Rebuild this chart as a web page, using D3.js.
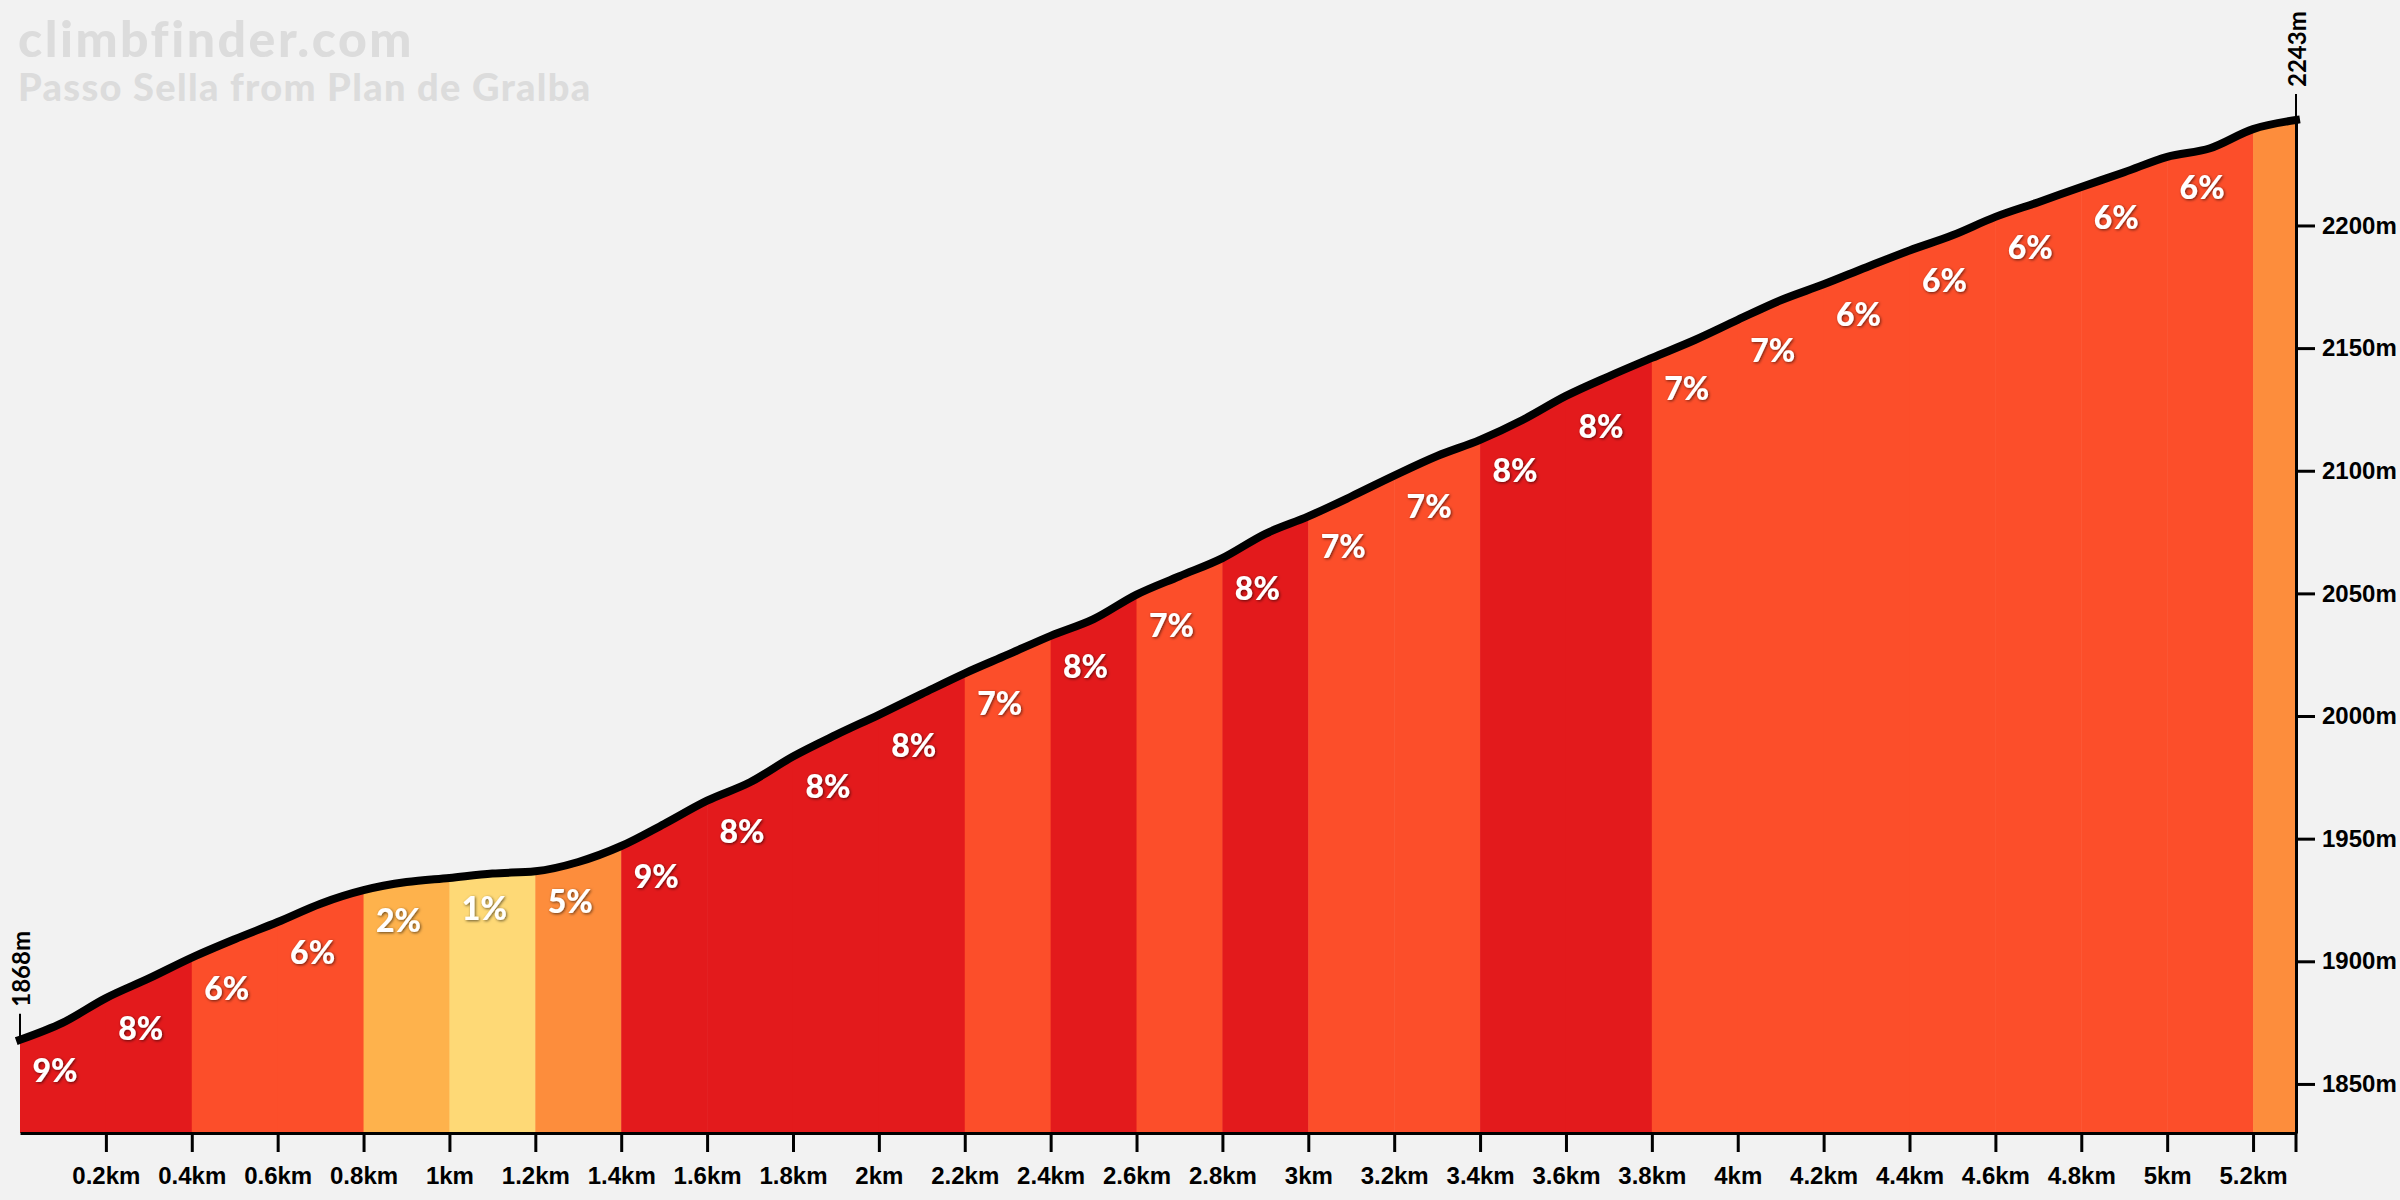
<!DOCTYPE html>
<html>
<head>
<meta charset="utf-8">
<script src="https://cdn.jsdelivr.net/npm/d3@7"></script>
<style>
  html, body { margin: 0; padding: 0; background: #f2f2f2; }
  svg { display: block; font-family: Lato, "Open Sans", sans-serif; }
  .axis text { font-size: 24px; font-weight: 700; fill: #000; }
  .axis line, .axis path { stroke: #000; stroke-width: 3; }
</style>
</head>
<body>
<svg width="2400" height="1200"></svg>
<script>
/* Data */
const TITLE = 'climbfinder.com';
const SUBTITLE = 'Passo Sella from Plan de Gralba';

// profile, km / m
const DISTANCE = [0, 0.1, 0.2, 0.3, 0.4, 0.5, 0.6, 0.7, 0.8, 0.9,
  1.0, 1.1, 1.2, 1.3, 1.4, 1.5, 1.6, 1.7, 1.8, 1.9,
  2.0, 2.1, 2.2, 2.3, 2.4, 2.5, 2.6, 2.7, 2.8, 2.9,
  3.0, 3.1, 3.2, 3.3, 3.4, 3.5, 3.6, 3.7, 3.8, 3.9,
  4.0, 4.1, 4.2, 4.3, 4.4, 4.5, 4.6, 4.7, 4.8, 4.9,
  5.0, 5.1, 5.2, 5.3];
const ELEVATION = [1868, 1875, 1885, 1893, 1901.5, 1909, 1916, 1923.5, 1929, 1932.3,
  1934, 1935.8, 1936.7, 1940.5, 1947, 1956, 1965.5, 1973, 1983.5, 1992.3,
  2000.5, 2009, 2017.4, 2025, 2032.7, 2039.5, 2049.5, 2057, 2064.4, 2074.3,
  2081.4, 2089.5, 2098, 2106, 2112.6, 2120.8, 2130.5, 2138.5, 2146, 2153.3,
  2161.5, 2169.5, 2176, 2183, 2189.8, 2196, 2203.5, 2209.5, 2215.7, 2221.7,
  2228, 2231.5, 2239.3, 2243];

// gradient segments
const SEGMENT_START = [0, 0.2, 0.4, 0.6, 0.8, 1.0, 1.2, 1.4, 1.6, 1.8, 2.0, 2.2, 2.4,
  2.6, 2.8, 3.0, 3.2, 3.4, 3.6, 3.8, 4.0, 4.2, 4.4, 4.6, 4.8, 5.0, 5.2];
const SEGMENT_GRADE = [9, 8, 6, 6, 2, 1, 5, 9, 8, 8, 8, 7, 8, 7, 8, 7, 7, 8, 8, 7, 7,
  6, 6, 6, 6, 6, 4];

const X_TICKS = [0.2, 0.4, 0.6, 0.8, 1, 1.2, 1.4, 1.6, 1.8, 2, 2.2, 2.4, 2.6, 2.8,
  3, 3.2, 3.4, 3.6, 3.8, 4, 4.2, 4.4, 4.6, 4.8, 5, 5.2];
const Y_TICKS = [1850, 1900, 1950, 2000, 2050, 2100, 2150, 2200];

const GRADE_BREAKS = [2, 3, 6, 8];
const GRADE_COLORS = ['#fed976', '#feb24c', '#fd8d3c', '#fc4e2a', '#e31a1c'];

/* SVG */
const svg = d3.select('svg');
const profile = DISTANCE.map((d, i) => ({ d: d, e: ELEVATION[i] }));
const totalDist = DISTANCE[DISTANCE.length - 1];

/* Scales */
const x = d3.scaleLinear().domain([0, totalDist]).range([20, 2296]);
const y = d3.scaleLinear().domain([1830, 2243]).range([1133, 120]);
const color = d3.scaleThreshold().domain(GRADE_BREAKS).range(GRADE_COLORS);

const elevAt = d => profile[d3.bisector(p => p.d).left(profile, d - 1e-6)].e;

/* Title */
svg.append('text')
  .attr('x', 18).attr('y', 57)
  .attr('font-size', 50).attr('font-weight', 900)
  .attr('letter-spacing', 2.5)
  .attr('fill', '#dcdcdc')
  .text(TITLE);
svg.append('text')
  .attr('x', 18).attr('y', 101)
  .attr('font-size', 38).attr('font-weight', 900)
  .attr('letter-spacing', 1.3)
  .attr('fill', '#dcdcdc')
  .text(SUBTITLE);

/* Defs */
const defs = svg.append('defs');
const area = d3.area()
  .x(p => x(p.d))
  .y0(y(1830))
  .y1(p => y(p.e))
  .curve(d3.curveMonotoneX);

defs.append('clipPath').attr('id', 'profile-clip')
  .append('path').attr('d', area(profile));

defs.append('filter').attr('id', 'shadow')
  .attr('x', '-20%').attr('y', '-20%').attr('width', '140%').attr('height', '140%')
  .append('feDropShadow')
  .attr('dx', 1).attr('dy', 1).attr('stdDeviation', 1.5)
  .attr('flood-color', '#000').attr('flood-opacity', 0.6);

/* Segments */
const segments = SEGMENT_START.map((s, i) => ({
  start: s,
  end: i < SEGMENT_START.length - 1 ? SEGMENT_START[i + 1] : totalDist,
  grade: SEGMENT_GRADE[i]
}));

svg.append('g')
  .attr('clip-path', 'url(#profile-clip)')
  .selectAll('rect')
  .data(segments)
  .enter().append('rect')
  .attr('x', d => x(d.start))
  .attr('y', 0)
  .attr('width', d => x(d.end) - x(d.start) + 0.5)
  .attr('height', y(1830))
  .attr('fill', d => color(d.grade));

/* Profile line */
const line = d3.line()
  .x(p => x(p.d))
  .y(p => y(p.e))
  .curve(d3.curveMonotoneX);

svg.append('path')
  .attr('d', line(profile))
  .attr('fill', 'none')
  .attr('stroke', '#000')
  .attr('stroke-width', 8)
  .attr('stroke-linecap', 'square');

/* Gradient labels */
svg.append('g')
  .selectAll('text')
  .data(segments.filter(s => s.end - s.start > 0.15))
  .enter().append('text')
  .attr('x', d => x((d.start + d.end) / 2) - 8)
  .attr('y', d => y(elevAt(d.start)) + 42)
  .attr('text-anchor', 'middle')
  .attr('font-size', 32)
  .attr('font-weight', 900)
  .attr('fill', '#fff')
  .attr('filter', 'url(#shadow)')
  .text(d => d.grade + '%');

/* Axes */
const xAxis = d3.axisBottom(x)
  .tickValues(X_TICKS)
  .tickSize(19)
  .tickSizeOuter(0)
  .tickPadding(15)
  .tickFormat(d => d3.format('~g')(d) + 'km');

svg.append('g')
  .attr('class', 'axis')
  .attr('transform', `translate(0,${y(1830)})`)
  .attr('font-family', null).attr('font-size', null)
  .call(xAxis);

const yAxis = d3.axisRight(y)
  .tickValues(Y_TICKS)
  .tickSize(19)
  .tickSizeOuter(0)
  .tickPadding(7)
  .tickFormat(d => d + 'm');

svg.append('g')
  .attr('class', 'axis')
  .attr('transform', `translate(${x(totalDist)},0)`)
  .attr('font-family', null).attr('font-size', null)
  .call(yAxis);

// end tick below the baseline
svg.append('line')
  .attr('x1', x(totalDist)).attr('x2', x(totalDist))
  .attr('y1', y(1830)).attr('y2', y(1830) + 19)
  .attr('stroke', '#000').attr('stroke-width', 3);

/* Start / finish markers */
const markers = [
  { d: 0, e: ELEVATION[0] },
  { d: totalDist, e: ELEVATION[ELEVATION.length - 1] }
];

const marker = svg.append('g').selectAll('g')
  .data(markers)
  .enter().append('g')
  .attr('transform', m => `translate(${x(m.d)},${y(m.e)})`);

marker.append('line')
  .attr('y1', 0).attr('y2', -26)
  .attr('stroke', '#000').attr('stroke-width', 2);

marker.append('text')
  .attr('transform', 'translate(0,-33) rotate(-90)')
  .attr('dominant-baseline', 'central')
  .attr('font-size', 24)
  .attr('font-weight', 700)
  .text(m => m.e + 'm');
</script>
</body>
</html>
